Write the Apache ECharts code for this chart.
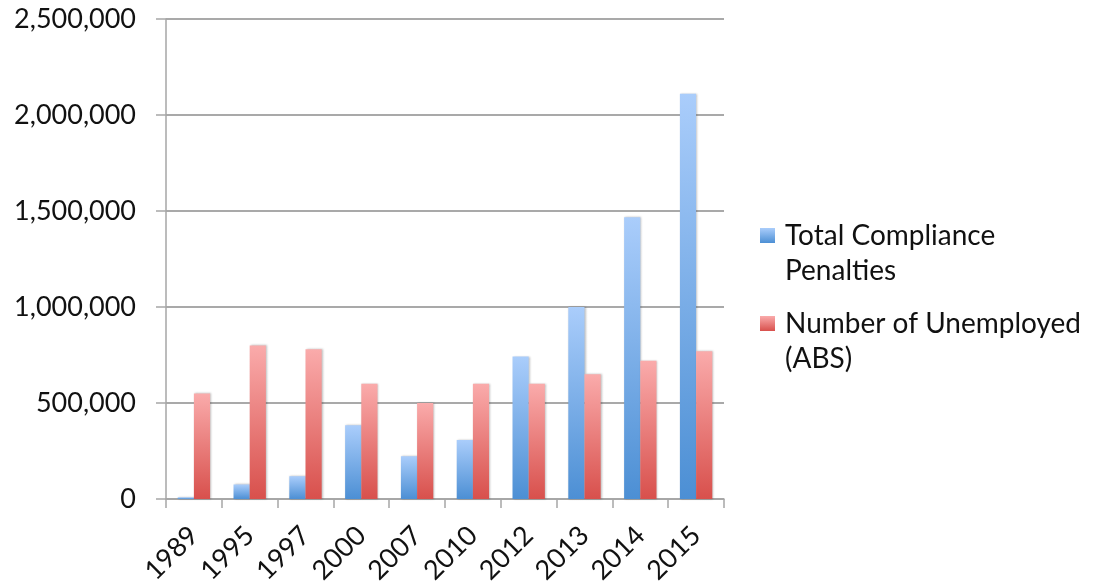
<!DOCTYPE html>
<html>
<head>
<meta charset="utf-8">
<script src="https://cdn.jsdelivr.net/npm/echarts@6/dist/echarts.min.js"></script>
<style>
html,body{margin:0;padding:0;background:#fff;}
#chart{width:1094px;height:587px;}
</style>
</head>
<body>
<div id="chart"></div>
<script>
const categories = ['1989','1995','1997','2000','2007','2010','2012','2013','2014','2015'];
const penalties = [9000, 76000, 119000, 384000, 223000, 308000, 742000, 1000000, 1468000, 2111000];
const unemployed = [550000, 800000, 780000, 600000, 500000, 600000, 600000, 650000, 720000, 770000];
const seriesNames = ['Total Compliance Penalties', 'Number of Unemployed (ABS)'];
const legendLines = [['Total Compliance', 'Penalties'], ['Number of Unemployed', '(ABS)']];

const FONT = 'Lato';
const chart = echarts.init(document.getElementById('chart'), null, {renderer:'canvas'});

function grad(top, bottom){
  return new echarts.graphic.LinearGradient(0,0,0,1,[{offset:0,color:top},{offset:1,color:bottom}]);
}
const blueGrad = grad('#aacdfb', '#4c8fd4');
const redGrad = grad('#faabab', '#d8504c');

const legendText = {
  fontFamily: FONT, fontSize: 28, color: '#111', lineHeight: 35,
  rich: {t: {fontFamily: FONT, fontSize: 28, color: '#111', lineHeight: 35, padding: [0, 0, 0, 5]}}
};
// leading blank line puts the first text line level with the icon
const legendFmt = n => '\n' + legendLines[seriesNames.indexOf(n)].map(s => '{t|' + s + '}').join('\n');

chart.setOption({
  animation: false,
  backgroundColor: '#fff',
  grid: {left: 166, right: 370, top: 19, bottom: 87},
  legend: [
    {data: [seriesNames[0]], orient: 'vertical', left: 760, top: 183, padding: 0,
     icon: 'rect', itemWidth: 15, itemHeight: 15, textStyle: legendText, formatter: legendFmt},
    {data: [seriesNames[1]], orient: 'vertical', left: 760, top: 271, padding: 0,
     icon: 'rect', itemWidth: 15, itemHeight: 15, textStyle: legendText, formatter: legendFmt}
  ],
  xAxis: {
    type: 'category', data: categories,
    axisLine: {lineStyle: {color: '#a6a6a6', width: 1.5}},
    axisTick: {show: true, length: 9, lineStyle: {color: '#a6a6a6', width: 1.5}},
    axisLabel: {rotate: 45, fontFamily: FONT, fontSize: 27, color: '#111', margin: 32, interval: 0}
  },
  yAxis: {
    type: 'value', min: 0, max: 2500000, interval: 500000,
    axisLine: {show: true, lineStyle: {color: '#a6a6a6', width: 1.5}},
    axisTick: {show: true, length: 10, lineStyle: {color: '#a6a6a6', width: 1.5}},
    splitLine: {lineStyle: {color: '#8c8c8c', width: 1.5}},
    axisLabel: {fontFamily: FONT, fontSize: 27, color: '#111', margin: 30,
      formatter: v => v.toLocaleString('en-US')}
  },
  series: [
    {name: seriesNames[0], type: 'bar', data: penalties, barGap: '0%', barCategoryGap: '42%',
     itemStyle: {color: blueGrad, shadowColor: 'rgba(0,0,0,0.25)', shadowBlur: 2, shadowOffsetX: 1}},
    {name: seriesNames[1], type: 'bar', data: unemployed, barGap: '0%', barCategoryGap: '42%',
     itemStyle: {color: redGrad, shadowColor: 'rgba(0,0,0,0.25)', shadowBlur: 2, shadowOffsetX: 1}}
  ]
});
</script>
</body>
</html>
